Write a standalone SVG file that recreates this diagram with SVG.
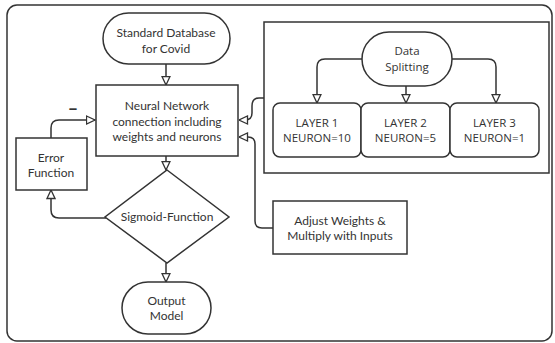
<svg xmlns="http://www.w3.org/2000/svg" width="555" height="343" viewBox="0 0 555 343">
<defs>
<marker id="arr" viewBox="0 0 10 10" refX="9.5" refY="5" markerWidth="10" markerHeight="10" markerUnits="userSpaceOnUse" orient="auto">
<path d="M1,1 L9.5,5 L1,9 Z" fill="#fff" stroke="#333" stroke-width="1.3"/>
</marker>
<style>
.s{fill:#fff;stroke:#333;stroke-width:1.5}
.c{fill:none;stroke:#333;stroke-width:1.5;marker-end:url(#arr)}
.t{font-family:Lato,"Liberation Sans",sans-serif;font-size:12px;fill:#333;text-anchor:middle}
.o{font-family:"Open Sans","Liberation Sans",sans-serif;font-size:11.5px;fill:#333;text-anchor:middle}
</style>
</defs>
<rect x="7" y="5" width="545" height="336" rx="10" fill="#fff" stroke="#333" stroke-width="1.5"/>
<g id="container"><rect class="s" x="264" y="22" width="285" height="151"/></g>
<g id="connectors">
<path class="c" d="M166,64 V85"/>
<path class="c" d="M166,156 V170"/>
<path class="c" d="M166,263 V282"/>
<path class="c" d="M51,138 V128 Q51,120 59,120 H95"/>
<path class="c" d="M106,218 H59 Q51,218 51,210 V190"/>
<path class="c" d="M264,98 H259 Q252,98 252,106 V113 Q252,120 245,120 H239"/>
<path class="c" d="M273,228 H262 Q255,228 255,221 V144 Q255,137 248,137 H239"/>
<path class="c" d="M362,59 H325 Q317,59 317,67 V103"/>
<path class="c" d="M406,86 V103"/>
<path class="c" d="M452,59 H488 Q496,59 496,67 V103"/>
</g>
<g id="standard-db"><rect class="s" x="103" y="13" width="127" height="51" rx="25.5"/>
<text class="t" x="166" y="37">Standard Database</text><text class="t" x="166" y="53">for Covid</text></g>
<g id="neural-network"><rect class="s" x="96" y="85" width="142" height="71"/>
<text class="t" x="167" y="110">Neural Network</text><text class="t" x="167" y="126">connection including</text><text class="t" x="167" y="141">weights and neurons</text></g>
<g id="error-function"><rect class="s" x="16" y="138" width="71" height="52"/>
<text class="t" x="51" y="162">Error</text><text class="t" x="51" y="177">Function</text>
<text class="t" x="73" y="115" style="font-size:18px;font-weight:bold">–</text></g>
<g id="sigmoid"><path class="s" d="M167,170 L229,217 L167,263 L105,217 Z"/>
<text class="t" x="167" y="221">Sigmoid-Function</text></g>
<g id="output-model"><rect class="s" x="122" y="282" width="89" height="52" rx="26"/>
<text class="t" x="166.5" y="305">Output</text><text class="t" x="166.5" y="320">Model</text></g>
<g id="adjust-weights"><rect class="s" x="273" y="201" width="134" height="53"/>
<text class="t" x="340" y="225">Adjust Weights &amp;</text><text class="t" x="340" y="240">Multiply with Inputs</text></g>
<g id="data-splitting"><rect class="s" x="362" y="32" width="90" height="54" rx="27"/>
<text class="o" x="407" y="55">Data</text><text class="o" x="407" y="71">Splitting</text></g>
<g id="layer1"><rect class="s" x="273" y="103" width="88" height="54" rx="7"/>
<text class="o" x="317" y="127">LAYER 1</text><text class="o" x="317" y="142">NEURON=10</text></g>
<g id="layer2"><rect class="s" x="361" y="103" width="89" height="54" rx="7"/>
<text class="o" x="405.5" y="127">LAYER 2</text><text class="o" x="405.5" y="142">NEURON=5</text></g>
<g id="layer3"><rect class="s" x="450" y="103" width="89" height="54" rx="7"/>
<text class="o" x="494.5" y="127">LAYER 3</text><text class="o" x="494.5" y="142">NEURON=1</text></g>
</svg>
